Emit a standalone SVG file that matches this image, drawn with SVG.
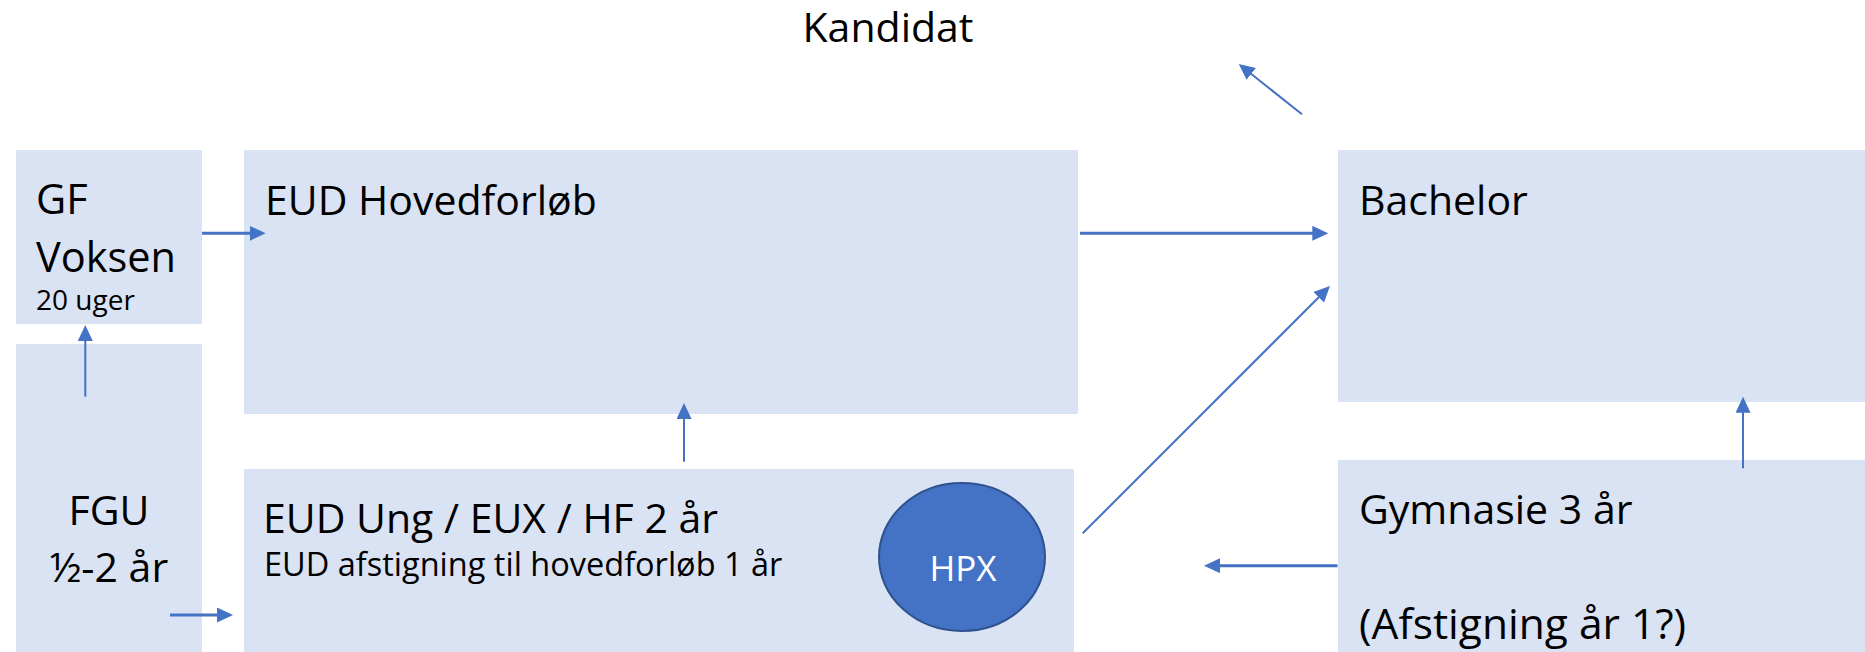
<svg xmlns="http://www.w3.org/2000/svg" width="1865" height="652" viewBox="0 0 1865 652">
<style>
.box{fill:#DAE3F3}
.t{font-family:"Open Sans","Liberation Sans",sans-serif;fill:#000}
.big{font-size:41px}
.mid{font-size:32.5px}
.sm{font-size:28px}
.c{stroke:#4472C4;fill:none}
.thick{stroke-width:3}
.thin{stroke-width:2}
</style>
<defs>
<marker id="ah" markerUnits="userSpaceOnUse" markerWidth="16" markerHeight="15" refX="8" refY="7.5" orient="auto">
<path d="M0,0 L16,7.5 L0,15 z" fill="#4472C4"/>
</marker>
</defs>
<rect width="1865" height="652" fill="#fff"/>
<g id="kandidat">
<text class="t big" x="888" y="42" text-anchor="middle">Kandidat</text>
</g>
<g id="gf">
<rect class="box" x="16" y="150" width="186" height="174"/>
<text class="t" x="36" y="214" font-size="41.5">GF</text>
<text class="t" x="36" y="271.5" font-size="41.5">Voksen</text>
<text class="t sm" x="36" y="310">20 uger</text>
</g>
<g id="eud-hoved">
<rect class="box" x="244" y="150" width="834" height="264"/>
<text class="t big" x="265" y="215">EUD Hovedforløb</text>
</g>
<g id="bachelor">
<rect class="box" x="1338" y="150" width="527" height="252"/>
<text class="t big" x="1359" y="215">Bachelor</text>
</g>
<g id="fgu">
<rect class="box" x="16" y="344" width="186" height="308"/>
<text class="t" x="109" y="525" font-size="41" text-anchor="middle">FGU</text>
<text class="t" x="109" y="581.5" font-size="41" text-anchor="middle">½-2 år</text>
</g>
<g id="eud-ung">
<rect class="box" x="244" y="469" width="830" height="183"/>
<text class="t big" x="263" y="533">EUD Ung / EUX / HF 2 år</text>
<text class="t mid" x="264" y="576">EUD afstigning til hovedforløb 1 år</text>
</g>
<g id="hpx">
<ellipse cx="962" cy="557" rx="83" ry="74" fill="#4472C4" stroke="#2F528F" stroke-width="2"/>
<text class="t" x="963" y="580.5" font-size="35" style="fill:#fff" text-anchor="middle">HPX</text>
</g>
<g id="gymnasie">
<rect class="box" x="1338" y="460" width="527" height="192"/>
<text class="t big" x="1359" y="524">Gymnasie 3 år</text>
<text class="t" x="1359" y="639" font-size="42.5">(Afstigning år 1?)</text>
</g>
<g id="connectors">
<line class="c thick" x1="202" y1="233.3" x2="257.7" y2="233.3" marker-end="url(#ah)"/>
<line class="c thick" x1="1080" y1="233.3" x2="1320.3" y2="233.3" marker-end="url(#ah)"/>
<line class="c thin" x1="85.3" y1="396.7" x2="85.3" y2="333" marker-end="url(#ah)"/>
<line class="c thick" x1="170" y1="615" x2="225" y2="615" marker-end="url(#ah)"/>
<line class="c thin" x1="684" y1="461.7" x2="684" y2="411" marker-end="url(#ah)"/>
<line class="c thin" x1="1082.7" y1="533.3" x2="1324.3" y2="291.7" marker-end="url(#ah)"/>
<line class="c thick" x1="1337.5" y1="565.7" x2="1212" y2="565.7" marker-end="url(#ah)"/>
<line class="c thin" x1="1743" y1="468.3" x2="1743" y2="404.7" marker-end="url(#ah)"/>
<line class="c thin" x1="1302" y1="114.3" x2="1245" y2="69" marker-end="url(#ah)"/>
</g>
</svg>
